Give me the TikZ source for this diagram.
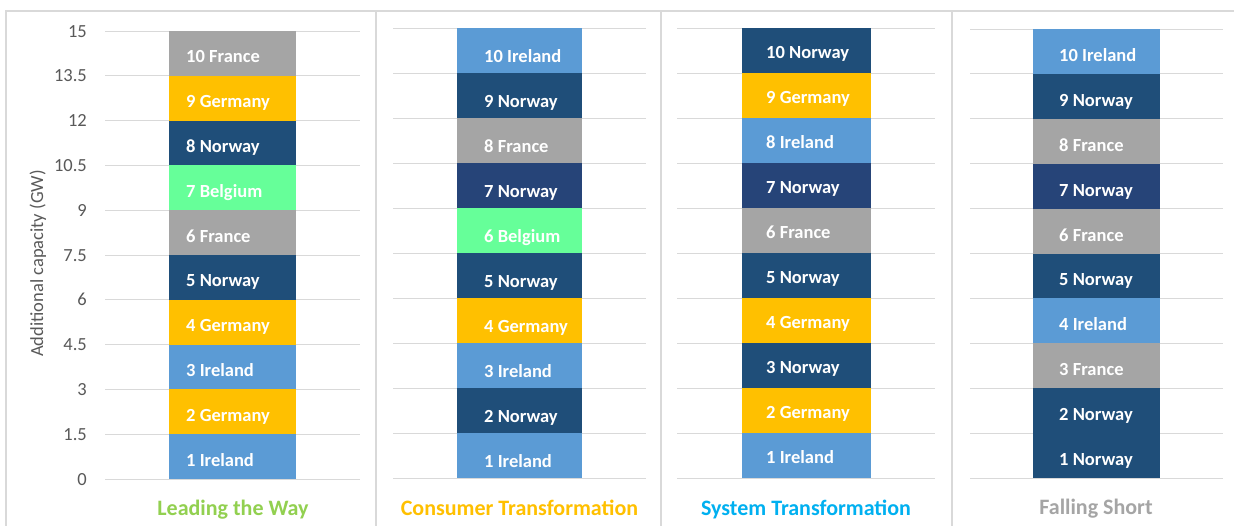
\documentclass[tikz,border=0pt]{standalone}
\usepackage{fontspec}
\setmainfont{Carlito}
\definecolor{cIre}{HTML}{5B9BD5}
\definecolor{cGer}{HTML}{FFC000}
\definecolor{cNor}{HTML}{1F4E79}
\definecolor{cNorB}{HTML}{264478}
\definecolor{cFra}{HTML}{A5A5A5}
\definecolor{cBel}{HTML}{66FF99}
\definecolor{cGrid}{HTML}{D9D9D9}
\definecolor{cAxis}{HTML}{595959}
\definecolor{cLead}{HTML}{92D050}
\definecolor{cCons}{HTML}{FFC000}
\definecolor{cSys}{HTML}{00B0F0}
\definecolor{cFall}{HTML}{A5A5A5}
\tikzset{
  gridline/.style={draw=cGrid, line width=1pt},
  frame/.style={draw=cGrid, line width=1.5pt},
  seglabel/.style={anchor=base west, inner sep=0pt, text=white, font=\fontsize{18.5}{20}\selectfont\bfseries},
  ticklabel/.style={anchor=base east, inner sep=0pt, text=cAxis, font=\fontsize{18.5}{20}\selectfont},
  axistitle/.style={anchor=base, inner sep=0pt, text=cAxis, rotate=90, font=\fontsize{18.5}{20}\selectfont},
  paneltitle/.style={anchor=base, inner sep=0pt, font=\fontsize{22}{24}\selectfont\bfseries},
}
% \mkseg{name}{barleft}{barright}{top}{bottom}{colour}{text}{labelx}{baselineoffset}
\newcommand\mkseg[9]{%
  \fill[#6] (#2,{#4}) rectangle (#3,{#5});
  \node[seglabel] (#1) at (#8,{((#4)+(#5))/2+#9}) {#7};
}
\begin{document}
\begin{tikzpicture}[x=1pt,y=-1pt]
\useasboundingbox (0,0) rectangle (1234,525);
\fill[white] (0,0) rectangle (1234,525);
% panel frames
\draw[frame] (6,530) -- (6,11) -- (1240,11);
\draw[frame] (376,11) -- (376,530);
\draw[frame] (661,11) -- (661,530);
\draw[frame] (952,11) -- (952,530);
% gridlines
\foreach \k in {0,...,10} {
  \draw[gridline] (105,{479-\k*44.8}) -- (360,{479-\k*44.8});
  \draw[gridline] (393,{478-\k*45}) -- (646,{478-\k*45});
  \draw[gridline] (677,{478-\k*45}) -- (935,{478-\k*45});
  \draw[gridline] (970,{478-\k*44.9}) -- (1223,{478-\k*44.9});
}
% tick labels
\foreach \lab [count=\i from 0] in {0,1.5,3,4.5,6,7.5,9,10.5,12,13.5,15} {
  \node[ticklabel] (tick\i) at (87,{479-\i*44.8+6}) {\lab};
}
\node[axistitle] (ytitle) at (43,263.5) {Additional capacity (GW)};
% Panel 1: Leading the Way
\foreach \i/\col/\txt in {1/cIre/1 Ireland,2/cGer/2 Germany,3/cIre/3 Ireland,4/cGer/4 Germany,5/cNor/5 Norway,6/cFra/6 France,7/cBel/7 Belgium,8/cNor/8 Norway,9/cGer/9 Germany,10/cFra/10 France} {
  \mkseg{a\i}{169}{296}{479-\i*44.8}{479-(\i-1)*44.8}{\col}{\txt}{186}{9.5}
}
% Panel 2: Consumer Transformation
\foreach \i/\col/\txt in {1/cIre/1 Ireland,2/cNor/2 Norway,3/cIre/3 Ireland,4/cGer/4 Germany,5/cNor/5 Norway,6/cBel/6 Belgium,7/cNorB/7 Norway,8/cFra/8 France,9/cNor/9 Norway,10/cIre/10 Ireland} {
  \mkseg{b\i}{457}{582}{478-\i*45}{478-(\i-1)*45}{\col}{\txt}{484}{11.5}
}
% Panel 3: System Transformation
\foreach \i/\col/\txt in {1/cIre/1 Ireland,2/cGer/2 Germany,3/cNor/3 Norway,4/cGer/4 Germany,5/cNor/5 Norway,6/cFra/6 France,7/cNorB/7 Norway,8/cIre/8 Ireland,9/cGer/9 Germany,10/cNor/10 Norway} {
  \mkseg{c\i}{742}{871}{478-\i*45}{478-(\i-1)*45}{\col}{\txt}{766}{8}
}
% Panel 4: Falling Short
\foreach \i/\col/\txt in {1/cNor/1 Norway,2/cNor/2 Norway,3/cFra/3 France,4/cIre/4 Ireland,5/cNor/5 Norway,6/cFra/6 France,7/cNorB/7 Norway,8/cFra/8 France,9/cNor/9 Norway,10/cIre/10 Ireland} {
  \mkseg{d\i}{1033}{1160}{478-\i*44.9}{478-(\i-1)*44.9}{\col}{\txt}{1059}{10}
}
% titles
\node[paneltitle, text=cLead] (t1) at (233,515) {Leading the Way};
\node[paneltitle, text=cCons] (t2) at (519.5,515) {Consumer Transformation};
\node[paneltitle, text=cSys] (t3) at (806,515) {System Transformation};
\node[paneltitle, text=cFall] (t4) at (1096,514) {Falling Short};
\end{tikzpicture}
\end{document}
